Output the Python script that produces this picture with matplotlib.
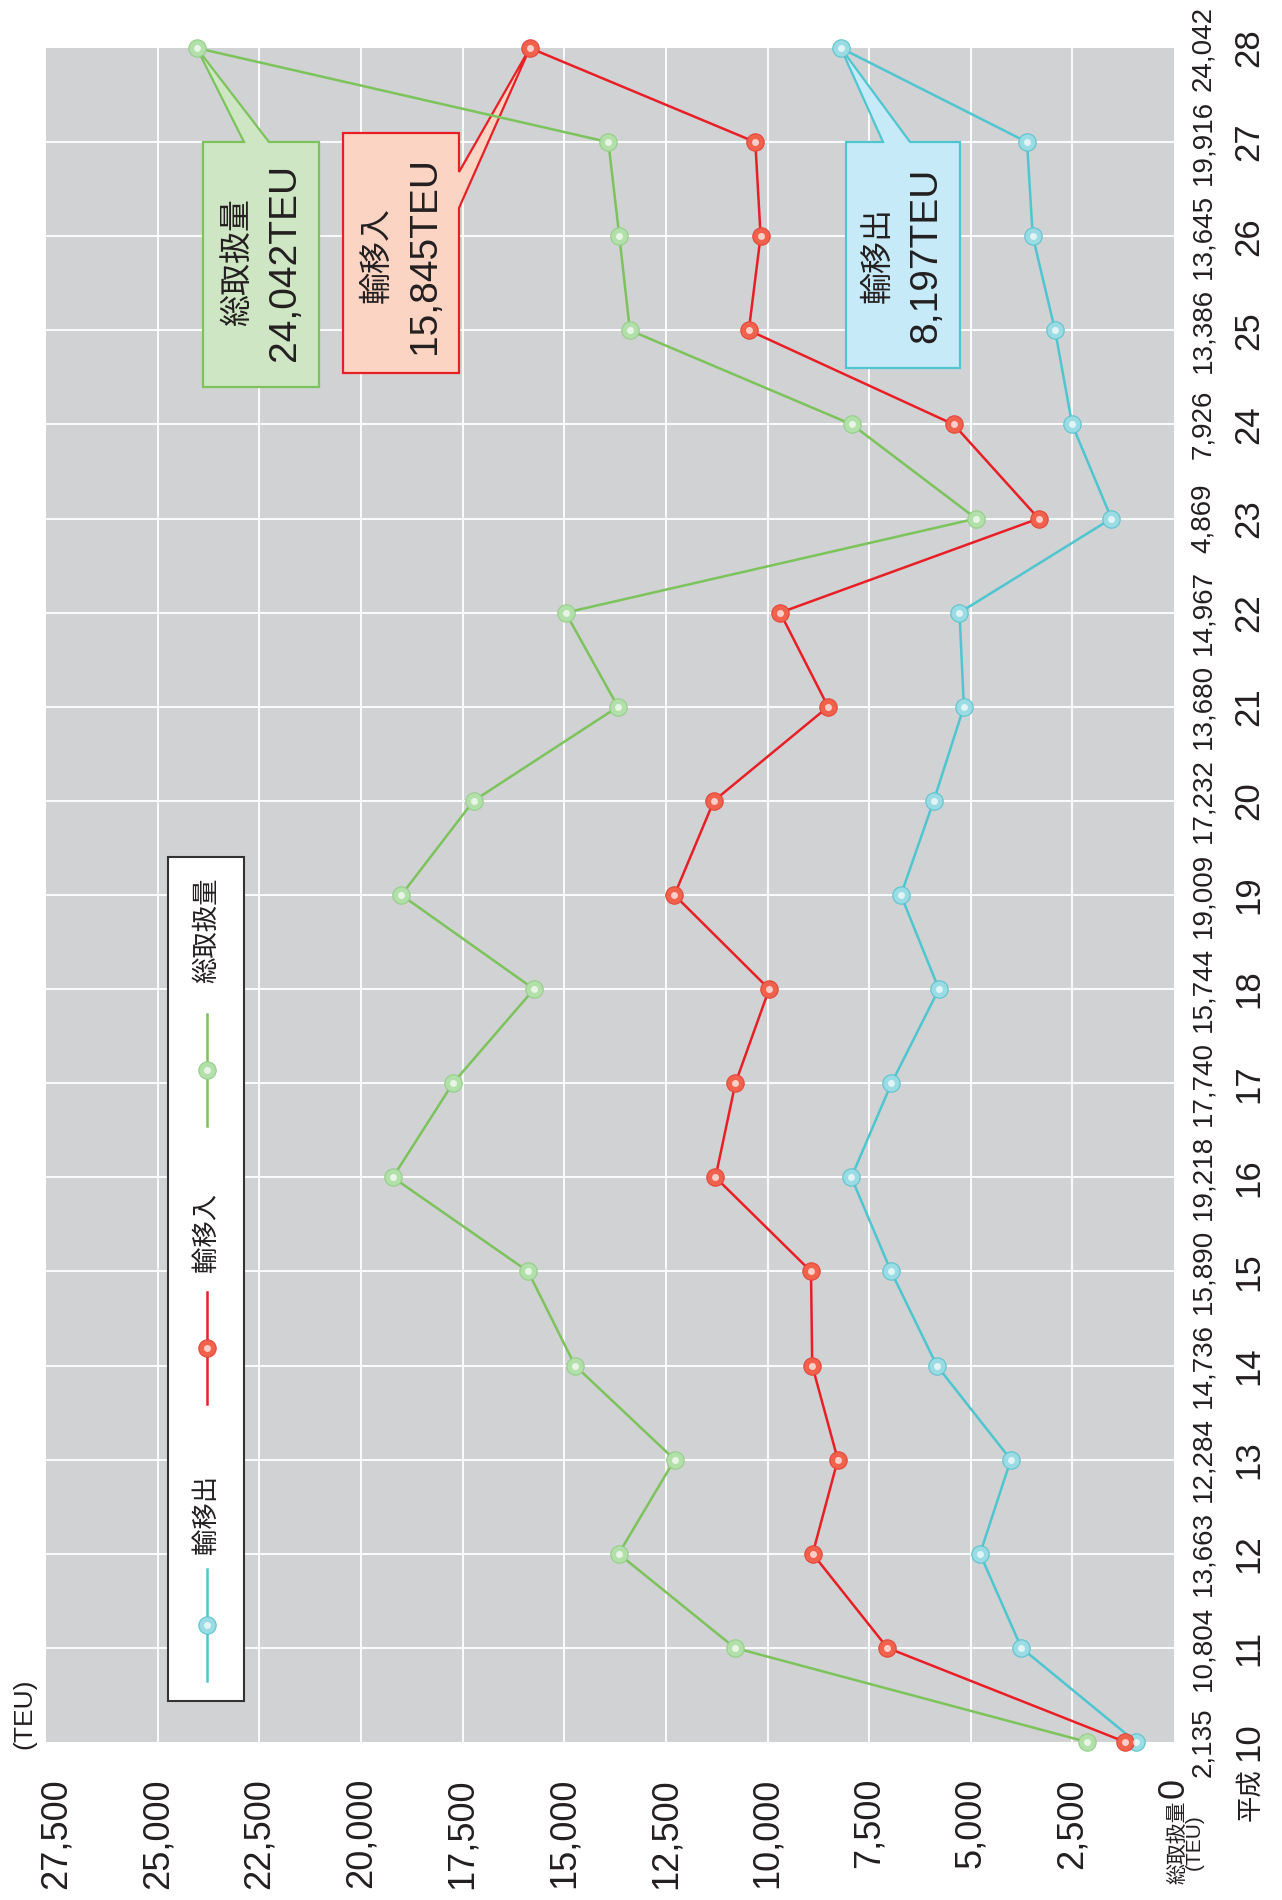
import matplotlib.pyplot as plt
import matplotlib.transforms as mtransforms
from matplotlib.lines import Line2D
from matplotlib.patches import Polygon, Rectangle

plt.rcParams['font.family'] = ['Liberation Sans', 'Noto Sans CJK JP', 'DejaVu Sans']

# %% data (平成10年〜28年, TEU)
years = list(range(10, 29))
total_labels = ['2,135', '10,804', '13,663', '12,284', '14,736', '15,890', '19,218',
                '17,740', '15,744', '19,009', '17,232', '13,680', '14,967', '4,869',
                '7,926', '13,386', '13,645', '19,916', '24,042']
inbound = [1200, 7050, 8890, 8270, 8900, 8930, 11280, 10790, 9960, 12290,
           11320, 8510, 9690, 3330, 5420, 10460, 10170, 10300, 15845]
outbound = [935, 3754, 4773, 4014, 5836, 6960, 7938, 6950, 5784, 6719,
            5912, 5170, 5277, 1539, 2506, 2926, 3475, 3616, 8197]
total = [2135, 10804, 13663, 12284, 14736, 15890, 19218, 17740, 15744, 19009,
         17232, 13680, 14967, 4869, 7926, 13386, 13645, 13916, 24042]
value_ticks = list(range(0, 27501, 2500))
names = ['輸移出', '輸移入', '総取扱量']

# %% styles
text_c = '#231f20'
bg_c = '#d1d2d4'
cyan = dict(line='#4ec6d0', face='#9adbe4', edge='#5cc4ce', fill='#c6eaf8')
red = dict(line='#e81f25', face='#f2614c', edge='#e2463a', fill='#fcd4c4')
green = dict(line='#7cc35b', face='#b3dfaa', edge='#93cf88', fill='#cfe6c4')

W, H = 1282, 1900
fig = plt.figure(figsize=(W / 100, H / 100), dpi=100)


def fx(x):
    return x / W


def fy(y):
    return 1 - y / H


ax = fig.add_axes([fx(46), fy(1742), (1174 - 46) / W, (1742 - 48) / H])
ax.set_facecolor(bg_c)
ax.set_xlim(27750, 0)
ax.set_ylim(years[0], years[-1])
for s in ax.spines.values():
    s.set_visible(False)

for v in value_ticks[1:-1]:
    ax.axvline(v, color='white', lw=1.3, zorder=1)
for yr in years[1:-1]:
    ax.axhline(yr, color='white', lw=1.3, zorder=1)

ax.set_xticks(value_ticks)
ax.set_xticklabels([f'{v:,}' for v in value_ticks], rotation=90, fontsize=26, color=text_c)
ax.tick_params(axis='x', length=0, pad=26)
ax.set_yticks([])

# %% lines
for vals, st in [(outbound, cyan), (inbound, red), (total, green)]:
    ax.plot(vals, years, color=st['line'], lw=1.8, zorder=3, clip_on=False)
    ax.plot(vals, years, ls='none', marker='o', ms=12.5, mfc=st['face'], mec=st['edge'],
            mew=0.8, zorder=4, clip_on=False)
    ax.plot(vals, years, ls='none', marker='o', ms=5, mfc='white', mec='none',
            alpha=0.7, zorder=5, clip_on=False)

# %% right side labels
trans = mtransforms.blended_transform_factory(fig.transFigure, ax.transData)
for yr, lab in zip(years, total_labels):
    ax.text(fx(1203), yr, lab, transform=trans, rotation=90, ha='center', va='center',
            fontsize=20, color=text_c, clip_on=False)
    ax.text(fx(1249), yr, str(yr), transform=trans, rotation=90, ha='center', va='center',
            fontsize=25, color=text_c, clip_on=False)

fig.text(fx(1250), fy(1795), '平成', rotation=90, ha='center', va='center', fontsize=19, color=text_c)
fig.text(fx(1186), fy(1842), '総取扱量\n(TEU)', rotation=90, ha='center', va='center',
         fontsize=15, linespacing=0.85, color=text_c)
fig.text(fx(24), fy(1714), '(TEU)', rotation=90, ha='center', va='center', fontsize=19, color=text_c)

# %% legend (drawn by hand, rotated)
fig.add_artist(Rectangle((fx(168), fy(1701)), (244 - 168) / W, (1701 - 857) / H,
                         transform=fig.transFigure, facecolor='white', edgecolor='#333333', lw=1.5))
leg_items = [(names[0], cyan, 1514, 1625), (names[1], red, 1232, 1348), (names[2], green, 930, 1070)]
for name, st, ty, my in leg_items:
    fig.add_artist(Line2D([fx(207), fx(207)], [fy(my + 56), fy(my - 56)], transform=fig.transFigure,
                          color=st['line'], lw=1.8))
    fig.add_artist(Line2D([fx(207)], [fy(my)], transform=fig.transFigure, marker='o', ms=12.5,
                          mfc=st['face'], mec=st['edge'], mew=0.8))
    fig.add_artist(Line2D([fx(207)], [fy(my)], transform=fig.transFigure, marker='o', ms=5,
                          mfc='white', mec='none', alpha=0.7))
    fig.text(fx(207), fy(ty), name, rotation=90, ha='center', va='center', fontsize=19, color=text_c)


# %% callouts for the last year
def apex(val):
    disp = ax.transData.transform((val, years[-1]))
    return tuple(fig.transFigure.inverted().transform(disp))


def box(pts, val, st):
    verts = [apex(val) if p is None else (fx(p[0]), fy(p[1])) for p in pts]
    ax.add_patch(Polygon(verts, closed=True, transform=fig.transFigure, facecolor=st['fill'],
                         edgecolor=st['line'], lw=1.6, zorder=2.5, clip_on=False))


box([(203, 387), (203, 142), (244, 142), None, (269, 142), (319, 142), (319, 387)], total[-1], green)
box([(343, 133), (459, 133), (459, 172), None, (459, 208), (459, 373), (343, 373)], inbound[-1], red)
box([(846, 368), (846, 142), (883, 142), None, (910, 142), (960, 142), (960, 368)], outbound[-1], cyan)

callouts = [(names[2], total[-1], 238, 285, 262), (names[1], inbound[-1], 377, 425, 255),
            (names[0], outbound[-1], 878, 926, 255)]
for name, val, x1, x2, yc in callouts:
    fig.text(fx(x1), fy(yc), name, rotation=90, ha='center', va='center', fontsize=23, color=text_c)
    fig.text(fx(x2), fy(yc), f'{val:,}TEU', rotation=90, ha='center', va='center', fontsize=28,
             color=text_c)

fig.savefig('out.png', dpi=100)
